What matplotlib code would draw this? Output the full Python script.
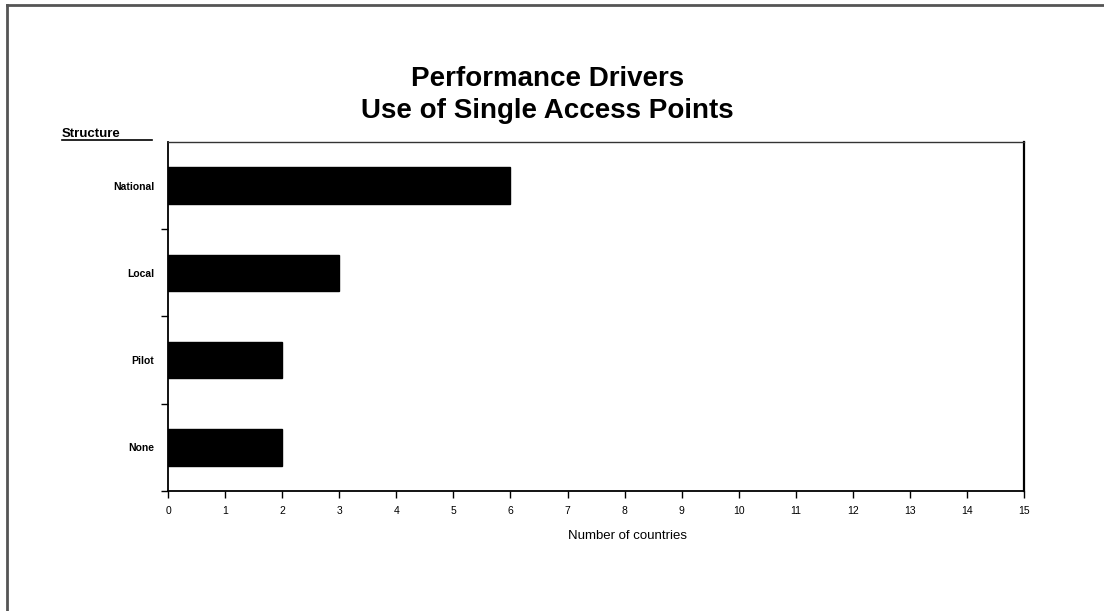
import matplotlib
matplotlib.use("Agg")
import matplotlib.pyplot as plt
from matplotlib.lines import Line2D

plt.rcParams['font.family'] = ['Liberation Sans', 'DejaVu Sans']

# Data
categories = ["National", "Local", "Pilot", "None"]
countries = [6, 3, 2, 2]
x_ticks = list(range(0, 16))

fig = plt.figure(figsize=(11.04, 6.11), dpi=100)
fig.patch.set_facecolor("white")

# plot area box
ax = fig.add_axes([0.1522, 0.1964, 0.7754, 0.5712])

n = len(categories)
ypos = [n - 0.5 - i for i in range(n)]
ax.barh(ypos, countries, height=0.42, color="black", edgecolor="black")

ax.set_xlim(0, 15)
ax.set_ylim(0, n)
ax.set_xticks(x_ticks)
ax.set_xticklabels([str(v) for v in x_ticks], fontsize=7.5)
ax.tick_params(axis="x", direction="out", length=5, width=1, pad=6)

# category labels sit between the tick marks
ax.set_yticks(range(0, n))
ax.set_yticklabels([])
ax.tick_params(axis="y", which="major", direction="out", length=5, width=1)
ax.set_yticks(ypos, minor=True)
ax.set_yticklabels(categories, minor=True, fontsize=7.5, fontweight="bold")
ax.tick_params(axis="y", which="minor", length=0, pad=10)

for side in ("left", "bottom"):
    ax.spines[side].set_linewidth(1.3)
    ax.spines[side].set_color("black")
ax.spines["top"].set_linewidth(1.0)
ax.spines["top"].set_color("#333333")
ax.spines["right"].set_linewidth(1.6)
ax.spines["right"].set_color("black")

fig.text(0.568, 0.1227, "Number of countries", ha="center", va="center",
         fontsize=9.5)

# y axis heading, underlined
fig.text(0.0562, 0.776, "Structure", ha="left", va="baseline",
         fontsize=9.5, fontweight="bold")
fig.add_artist(Line2D([0.0562, 0.1377], [0.7705, 0.7705], color="black",
                      linewidth=1.2, transform=fig.transFigure))

# title
fig.text(0.496, 0.871, "Performance Drivers", ha="center", va="center",
         fontsize=20, fontweight="bold")
fig.text(0.496, 0.819, "Use of Single Access Points", ha="center",
         va="center", fontsize=20, fontweight="bold")

# outer frame (left and top edges)
fig.add_artist(Line2D([0.0059, 0.0059], [0.0, 0.991], color="#555555",
                      linewidth=2, transform=fig.transFigure))
fig.add_artist(Line2D([0.0059, 1.0], [0.991, 0.991], color="#555555",
                      linewidth=2, transform=fig.transFigure))

fig.savefig("out.png", dpi=100, facecolor="white")
